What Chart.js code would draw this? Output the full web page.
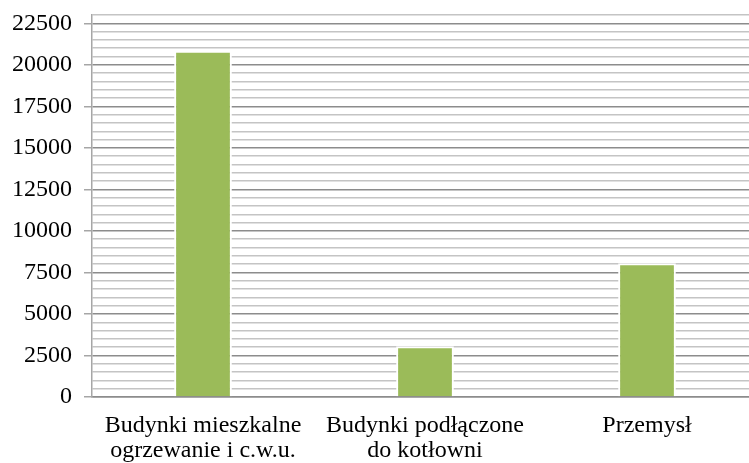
<!DOCTYPE html>
<html>
<head>
<meta charset="utf-8">
<script src="https://cdn.jsdelivr.net/npm/chart.js@4/dist/chart.umd.min.js"></script>
<style>
    html, body { margin: 0; padding: 0; background: #fff; overflow: hidden; }
    #wrap { width: 770px; height: 463px; }
</style>
</head>
<body>
<div id="wrap"><canvas id="myChart" width="770" height="463"></canvas></div>
<script>
const categories = [
    ['Budynki mieszkalne', 'ogrzewanie i c.w.u.'],
    ['Budynki podłączone', 'do kotłowni'],
    'Przemysł'
];
const values = [20850, 3050, 8050];
const majorStep = 2500;
const minorStep = 500;

const isMajor = v => v % majorStep === 0 && v <= 22500;

const serif = '"Liberation Serif", "Times New Roman", serif';

var ctx = document.getElementById('myChart').getContext('2d');

var myChart = new Chart(ctx, {
    type: 'bar',
    data: {
        labels: categories,
        datasets: [{
            data: values,
            backgroundColor: '#9BBB59',
            borderColor: '#ffffff',
            borderWidth: { top: 2, left: 2, right: 2, bottom: 0 },
            borderSkipped: false,
            categoryPercentage: 1,
            barPercentage: 0.26
        }]
    },
    options: {
        responsive: false,
        animation: false,
        layout: {
            padding: { top: 15, right: 12, left: 0, bottom: 0 }
        },
        scales: {
            x: {
                grid: { display: false },
                border: { display: true, color: '#8c8c8c', width: 1.5 },
                afterFit: function(scale) { scale.height = 66; },
                ticks: {
                    color: '#000',
                    font: { family: serif, size: 24, lineHeight: 1.05 },
                    padding: 8,
                    maxRotation: 0,
                    autoSkip: false
                }
            },
            y: {
                min: 0,
                max: 23000,
                afterFit: function(scale) {
                    scale.width = 92;
                    scale.paddingTop = 0; // top label is empty, no room needed
                },
                ticks: {
                    stepSize: minorStep,
                    autoSkip: false,
                    color: '#000',
                    padding: 12,
                    font: { family: serif, size: 24 },
                    callback: function(v) { return isMajor(v) ? String(v) : ''; }
                },
                grid: {
                    color: c => isMajor(c.tick.value) ? '#8c8c8c' : '#c4c4c4',
                    lineWidth: 1.5,
                    tickLength: 8,
                    tickColor: c => isMajor(c.tick.value) ? '#a6a6a6' : 'rgba(0,0,0,0)'
                },
                border: { display: true, color: '#a6a6a6', width: 1.5 }
            }
        },
        plugins: {
            legend: { display: false },
            tooltip: { enabled: false }
        }
    }
});
</script>
</body>
</html>
